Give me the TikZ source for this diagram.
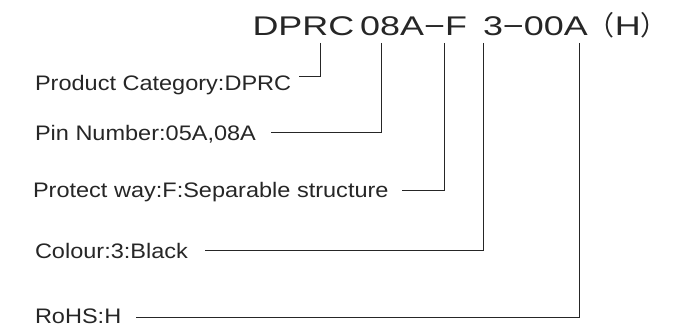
\documentclass[tikz,border=0pt]{standalone}
\usepackage{fontspec}
\setmainfont{Liberation Sans}
\newfontfamily\labfont{Liberation Sans}[FakeStretch=1.12]
\newfontfamily\titlefont{Liberation Sans}[FakeStretch=1.33]
\newfontfamily\cjk{Noto Sans CJK SC}
\usetikzlibrary{calc}

\tikzset{
    lab/.style={anchor=base west, text height=15pt, text depth=0pt,
        font=\labfont\fontsize{21}{24}\selectfont, text=black!85},
    lead/.style={draw=black!85, line width=0.8pt}
}

\begin{document}
\begin{tikzpicture}[x=1pt, y=-1pt, inner sep=0pt, outer sep=0pt]
    \useasboundingbox (0,0) rectangle (684,329);

    % part number
    \node[anchor=base west, text=black!85] (title) at (252.5, 36)
    {\titlefont\fontsize{27}{30}\selectfont DPRC\hspace{6pt}08A−F\hspace{16pt}3−00A{\cjk （}H{\cjk ）}};

    % tap points under the part number
    \coordinate (vDPRC) at (320, 43);
    \coordinate (vPin)  at (381.7, 43);
    \coordinate (vProt) at (444, 43);
    \coordinate (vCol)  at (483.3, 43);
    \coordinate (vRoHS) at (579, 43);

    % labels
    \node[lab] (cat)  at (35, 90)    {Product Category:DPRC};
    \node[lab] (pin)  at (35, 140)   {Pin Number:05A,08A};
    \node[lab] (prot) at (33, 197.7) {Protect way:F:Separable structure};
    \node[lab] (col)  at (35, 258)   {Colour:3:Black};
    \node[lab] (rohs) at (35, 323)   {RoHS:H};

    % leaders
    \draw[lead] (vDPRC) |- ($(cat.east) + (8pt, 6pt)$);
    \draw[lead] (vPin)  |- ($(pin.east) + (15pt, 0pt)$);
    \draw[lead] (vProt) |- ($(prot.east) + (13pt, -0.5pt)$);
    \draw[lead] (vCol)  |- ($(col.east) + (17pt, 0pt)$);
    \draw[lead] (vRoHS) |- ($(rohs.east) + (15pt, -1.5pt)$);
\end{tikzpicture}
\end{document}
